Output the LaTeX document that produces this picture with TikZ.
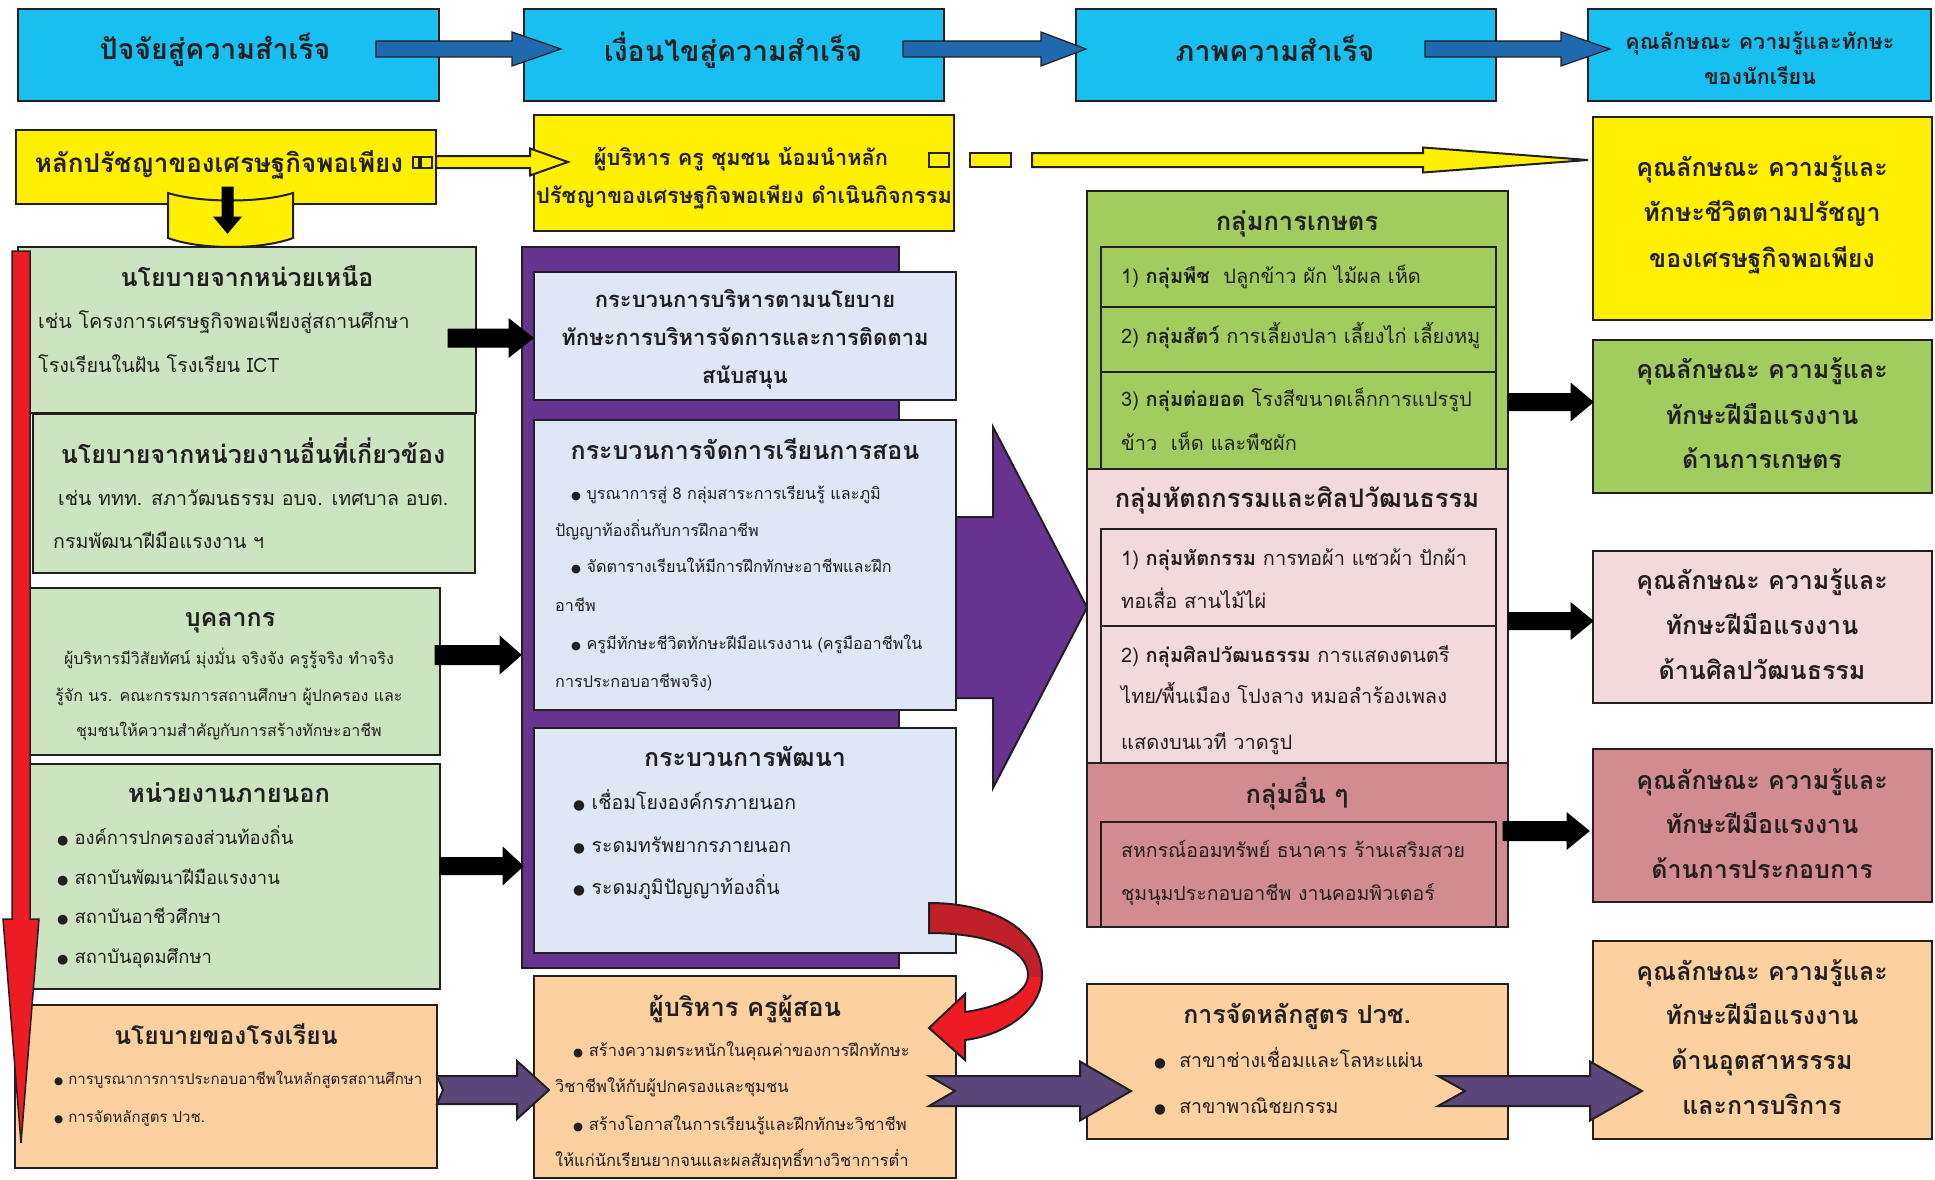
\documentclass[tikz,border=0pt]{standalone}
\usepackage{fontspec}
\usepackage{graphicx}
\setmainfont[Script=Thai]{Loma}
\newfontfamily\dv{DejaVu Sans}
\newcommand\bul{{\dv\scalebox{0.7}{●}}}
\definecolor{bd}{RGB}{35,31,32}
\definecolor{tx}{RGB}{35,31,32}
\definecolor{cy}{RGB}{23,192,240}
\definecolor{abl}{RGB}{31,105,175}
\definecolor{yl}{RGB}{255,240,0}
\definecolor{lg}{RGB}{205,228,192}
\definecolor{gn}{RGB}{162,205,94}
\definecolor{lp}{RGB}{242,218,220}
\definecolor{ro}{RGB}{211,139,146}
\definecolor{pe}{RGB}{253,208,160}
\definecolor{lv}{RGB}{223,230,245}
\definecolor{pu}{RGB}{102,51,145}
\definecolor{pa}{RGB}{90,70,120}
\definecolor{rd}{RGB}{237,28,36}
\definecolor{rdk}{RGB}{192,32,40}
\newcommand\Tc[5]{\node[tc] (#1) at (#2,{#3+0.27*#4}) {\fontsize{#4}{#4}\selectfont #5};}
\newcommand\Tl[5]{\node[tl] (#1) at (#2,{#3+0.27*#4}) {\fontsize{#4}{#4}\selectfont #5};}
\newcommand\Bx[6]{\node[box,fill=#1,minimum width=#5pt,minimum height=#6pt] (#2) at (#3,#4) {};}
% block arrow: [style]{xs}{xt}{y}{shaft half}{head half}{head length}
\newcommand\blkarrow[7][]{\draw[#1] (#2,{#4-#5}) -- ({#3-#7},{#4-#5}) -- ({#3-#7},{#4-#6}) -- (#3,#4) -- ({#3-#7},{#4+#6}) -- ({#3-#7},{#4+#5}) -- (#2,{#4+#5}) -- cycle;}
\newcommand\ntarrow[8][]{\draw[#1] (#2,{#4-#5}) -- ({#3-#7},{#4-#5}) -- ({#3-#7},{#4-#6}) -- (#3,#4) -- ({#3-#7},{#4+#6}) -- ({#3-#7},{#4+#5}) -- (#2,{#4+#5}) -- ({#2+#8},#4) -- cycle;}
\def\redpath{(929,903) .. controls (1000,903) and (1042,935) .. (1042,975) .. controls (1042,1010) and (1005,1035) .. (965,1040) -- (965,1060) -- (929,1028) -- (965,994) -- (965,1012) .. controls (995,1008) and (1028,995) .. (1028,975) .. controls (1028,950) and (990,933) .. (929,933) -- cycle}
\begin{document}
\begin{tikzpicture}[x=1pt,y=-1pt,
  box/.style={draw=bd,line width=2pt,anchor=north west,inner sep=0pt,outer sep=0pt},
  tc/.style={inner sep=0pt,anchor=base,text=tx},
  tl/.style={inner sep=0pt,anchor=base west,text=tx},
  bluearr/.style={fill=abl,draw=bd,line width=1.2pt},
  yarr/.style={fill=yl,draw=bd,line width=2pt},
  karr/.style={fill=black,draw=black,line width=1pt},
  parr/.style={fill=pa,draw=bd,line width=2pt}]
\useasboundingbox (0,0) rectangle (1935,1180);
\fill[white] (0,0) rectangle (1935,1180);
% ---------- top row
\Bx{cy}{hb1}{18}{9}{421}{92}
\Bx{cy}{hb2}{524}{9}{420}{92}
\Bx{cy}{hb3}{1076}{9}{420}{92}
\Bx{cy}{hb4}{1588}{9}{343}{92}
\blkarrow[bluearr]{376}{561}{49}{8}{17}{49}
\blkarrow[bluearr]{903}{1086}{49}{8}{17}{45}
\blkarrow[bluearr]{1425}{1610}{49}{8}{17}{49}
% ---------- yellow row
\Bx{yl}{yb1}{16}{130}{420}{74}
\Bx{yl}{yb2}{534}{115}{420}{116}
\Bx{yl}{yb3}{1593}{117}{339}{203}
\node[box,fill=yl,line width=1.5pt,minimum width=6pt,minimum height=11pt] (sq1) at (413,157) {};
\node[box,fill=yl,line width=1.5pt,minimum width=11pt,minimum height=11pt] (sq2) at (421,157) {};
\node[box,fill=yl,line width=1.8pt,minimum width=20pt,minimum height=14pt] (sq3) at (929,153) {};
\node[box,fill=yl,line width=2pt,minimum width=41pt,minimum height=14pt] (sq4) at (970,153) {};
\blkarrow[yarr]{436}{568}{162}{6}{13.5}{38}
\blkarrow[yarr]{1032}{1588}{160}{7}{12.5}{165}
% ---------- middle purple block
\node[box,fill=pu,minimum width=377pt,minimum height=721pt] (purp) at (522,247) {};
\draw[fill=pu,draw=bd,line width=2pt] (899,517) -- (993,517) -- (993,427) -- (1087,607.5) -- (993,788) -- (993,698) -- (899,698);
\Bx{lv}{lav1}{534}{272}{422}{128}
\Bx{lv}{lav2}{534}{420}{422}{290}
\Bx{lv}{lav3}{534}{728}{422}{225}
\Bx{pe}{pe2}{534}{976}{422}{202}
% ---------- left column
\Bx{lg}{g1}{18}{247}{458}{166}
\Bx{lg}{g2}{33}{414}{442}{159}
\Bx{lg}{g3}{30}{588}{410}{167}
\Bx{lg}{g4}{30}{764}{410}{225}
\Bx{pe}{pe1}{15}{1005}{422}{163}
\draw[fill=yl,draw=bd,line width=2pt] (168,193) .. controls (200,203) and (261,203) .. (293,193) -- (293,238) .. controls (261,250) and (200,250) .. (168,238) -- cycle;
\draw[fill=black,draw=black,line width=1pt] (222,187) -- (233,187) -- (233,217) -- (241,217) -- (227.5,233) -- (214,217) -- (222,217) -- cycle;
\draw[fill=rd,draw=bd,line width=1.5pt] (12,251) -- (30,251) -- (30,919) -- (39,919) -- (21,1143) -- (3,919) -- (12,919) -- cycle;
\blkarrow[karr]{448}{533}{338}{9}{19}{24}
\blkarrow[karr]{435}{521}{655}{9.5}{18.5}{21}
\blkarrow[karr]{440}{523}{866}{8.5}{18.5}{20}
\ntarrow[parr]{437}{549}{1090}{14}{29}{32}{6}
% ---------- middle right column
\Bx{gn}{gout}{1087}{191}{421}{278}
\Bx{gn}{gr1}{1101}{247}{395}{60}
\Bx{gn}{gr2}{1101}{307}{395}{65}
\Bx{gn}{gr3}{1101}{372}{395}{97}
\Bx{lp}{pout}{1087}{469}{421}{294}
\Bx{lp}{pr1}{1101}{529}{395}{97}
\Bx{lp}{pr2}{1101}{626}{395}{137}
\Bx{ro}{rout}{1087}{763}{421}{164}
\Bx{ro}{rin}{1101}{822}{395}{105}
\Bx{pe}{pe3}{1087}{984}{421}{155}
% ---------- right column
\Bx{gn}{rg}{1593}{340}{339}{153}
\Bx{lp}{rp}{1593}{551}{339}{152}
\Bx{ro}{rr}{1593}{749}{339}{153}
\Bx{pe}{rpe}{1593}{941}{339}{198}
\blkarrow[karr]{1508}{1593}{402}{8.5}{18.5}{22}
\blkarrow[karr]{1508}{1593}{621}{8.5}{18}{22}
\blkarrow[karr]{1503}{1589}{831}{9.5}{18}{22}
\ntarrow[parr]{929}{1131}{1091}{15}{29.5}{51}{26}
\ntarrow[parr]{1438}{1642}{1091}{15}{29.5}{52}{27}
% ---------- red curved arrow
\fill[rd] \redpath;
\begin{scope}\clip (900,880) rectangle (1060,976); \fill[rdk] \redpath; \end{scope}
\draw[bd,line width=2pt] \redpath;
% ---------- texts: top row
\Tc{t1}{215}{52}{28.5}{\bfseries ปัจจัยสู่ความสำเร็จ}
\Tc{t2}{733}{54}{28.5}{\bfseries เงื่อนไขสู่ความสำเร็จ}
\Tc{t3}{1275}{54}{28.5}{\bfseries ภาพความสำเร็จ}
\Tc{t4a}{1760}{44}{21.5}{\bfseries คุณลักษณะ ความรู้และทักษะ}
\Tc{t4b}{1760}{79}{21.5}{\bfseries ของนักเรียน}
% yellow row
\Tc{y1}{219}{165}{26}{\bfseries หลักปรัชญาของเศรษฐกิจพอเพียง}
\Tc{y2a}{741}{160}{21.8}{\bfseries ผู้บริหาร ครู ชุมชน น้อมนำหลัก}
\Tc{y2b}{744}{198}{21.8}{\bfseries ปรัชญาของเศรษฐกิจพอเพียง ดำเนินกิจกรรม}
\Tc{y3a}{1762}{170}{25}{\bfseries คุณลักษณะ ความรู้และ}
\Tc{y3b}{1762}{215}{25}{\bfseries ทักษะชีวิตตามปรัชญา}
\Tc{y3c}{1762}{261}{25}{\bfseries ของเศรษฐกิจพอเพียง}
% left column
\Tc{g1t}{247}{280}{25}{\bfseries นโยบายจากหน่วยเหนือ}
\Tl{g1a}{38}{323}{19.8}{เช่น โครงการเศรษฐกิจพอเพียงสู่สถานศึกษา}
\Tl{g1b}{38}{367}{19.8}{โรงเรียนในฝัน โรงเรียน ICT}
\Tc{g2t}{253}{457}{25}{\bfseries นโยบายจากหน่วยงานอื่นที่เกี่ยวข้อง}
\Tl{g2a}{58}{500}{19.6}{เช่น ททท. สภาวัฒนธรรม อบจ. เทศบาล อบต.}
\Tl{g2b}{53}{543}{19.6}{กรมพัฒนาฝีมือแรงงาน ฯ}
\Tc{g3t}{230}{620}{25}{\bfseries บุคลากร}
\Tc{g3a}{229}{660}{16}{ผู้บริหารมีวิสัยทัศน์ มุ่งมั่น จริงจัง ครูรู้จริง ทำจริง}
\Tc{g3b}{229}{697}{16}{รู้จัก นร. คณะกรรมการสถานศึกษา ผู้ปกครอง และ}
\Tc{g3c}{229}{732}{16}{ชุมชนให้ความสำคัญกับการสร้างทักษะอาชีพ}
\Tc{g4t}{229}{796}{25.5}{\bfseries หน่วยงานภายนอก}
\Tl{g4a}{57}{840}{18.4}{\bul\ องค์การปกครองส่วนท้องถิ่น}
\Tl{g4b}{57}{880}{18.4}{\bul\ สถาบันพัฒนาฝีมือแรงงาน}
\Tl{g4c}{57}{919}{18.4}{\bul\ สถาบันอาชีวศึกษา}
\Tl{g4d}{57}{959}{18.4}{\bul\ สถาบันอุดมศึกษา}
\Tc{p1t}{226}{1038}{24.6}{\bfseries นโยบายของโรงเรียน}
\Tl{p1a}{54}{1080}{15}{\bul\ การบูรณาการการประกอบอาชีพในหลักสูตรสถานศึกษา}
\Tl{p1b}{54}{1118}{15}{\bul\ การจัดหลักสูตร ปวช.}
% middle column
\Tc{l1a}{745}{302}{22}{\bfseries กระบวนการบริหารตามนโยบาย}
\Tc{l1b}{745}{340}{22}{\bfseries ทักษะการบริหารจัดการและการติดตาม}
\Tc{l1c}{745}{378}{22}{\bfseries สนับสนุน}
\Tc{l2t}{745}{453}{25}{\bfseries กระบวนการจัดการเรียนการสอน}
\Tl{l2a}{571}{495}{16.2}{\bul\ บูรณาการสู่ 8 กลุ่มสาระการเรียนรู้ และภูมิ}
\Tl{l2b}{555}{532}{16.2}{ปัญญาท้องถิ่นกับการฝึกอาชีพ}
\Tl{l2c}{571}{568}{16.2}{\bul\ จัดตารางเรียนให้มีการฝึกทักษะอาชีพและฝึก}
\Tl{l2d}{555}{607}{16.2}{อาชีพ}
\Tl{l2e}{571}{645}{16.2}{\bul\ ครูมีทักษะชีวิตทักษะฝีมือแรงงาน (ครูมืออาชีพใน}
\Tl{l2f}{555}{683}{16.2}{การประกอบอาชีพจริง)}
\Tc{l3t}{745}{760}{25}{\bfseries กระบวนการพัฒนา}
\Tl{l3a}{573}{804}{19.5}{\bul\ เชื่อมโยงองค์กรภายนอก}
\Tl{l3b}{573}{847}{19.5}{\bul\ ระดมทรัพยากรภายนอก}
\Tl{l3c}{573}{889}{19.5}{\bul\ ระดมภูมิปัญญาท้องถิ่น}
\Tc{p2t}{745}{1010}{25.5}{\bfseries ผู้บริหาร ครูผู้สอน}
\Tl{p2a}{573}{1052}{16.5}{\bul\ สร้างความตระหนักในคุณค่าของการฝึกทักษะ}
\Tl{p2b}{555}{1088}{16.5}{วิชาชีพให้กับผู้ปกครองและชุมชน}
\Tl{p2c}{573}{1126}{16.5}{\bul\ สร้างโอกาสในการเรียนรู้และฝึกทักษะวิชาชีพ}
\Tl{p2d}{555}{1162}{16.5}{ให้แก่นักเรียนยากจนและผลสัมฤทธิ์ทางวิชาการต่ำ}
% middle right column
\Tc{gt}{1297}{224}{25.5}{\bfseries กลุ่มการเกษตร}
\Tl{ga}{1121}{278}{20}{1) {\bfseries กลุ่มพืช}\ \ ปลูกข้าว ผัก ไม้ผล เห็ด}
\Tl{gb}{1121}{338}{20}{2) {\bfseries กลุ่มสัตว์} การเลี้ยงปลา เลี้ยงไก่ เลี้ยงหมู}
\Tl{gc}{1121}{401}{20}{3) {\bfseries กลุ่มต่อยอด} โรงสีขนาดเล็กการแปรรูป}
\Tl{gd}{1121}{445}{20}{ข้าว\ \ เห็ด และพืชผัก}
\Tc{pt}{1297}{501}{25.5}{\bfseries กลุ่มหัตถกรรมและศิลปวัฒนธรรม}
\Tl{pa}{1121}{560}{20}{1) {\bfseries กลุ่มหัตกรรม} การทอผ้า แซวผ้า ปักผ้า}
\Tl{pb}{1121}{603}{20}{ทอเสื่อ สานไม้ไผ่}
\Tl{pc}{1121}{657}{20}{2) {\bfseries กลุ่มศิลปวัฒนธรรม} การแสดงดนตรี}
\Tl{pd}{1121}{698}{20}{ไทย/พื้นเมือง โปงลาง หมอลำร้องเพลง}
\Tl{pf}{1121}{744}{20}{แสดงบนเวที วาดรูป}
\Tc{rt}{1297}{797}{25.5}{\bfseries กลุ่มอื่น ๆ}
\Tl{ra}{1121}{852}{19.5}{สหกรณ์ออมทรัพย์ ธนาคาร ร้านเสริมสวย}
\Tl{rb}{1121}{895}{19.5}{ชุมนุมประกอบอาชีพ งานคอมพิวเตอร์}
\Tc{p3t}{1297}{1017}{25}{\bfseries การจัดหลักสูตร ปวช.}
\Tl{p3a}{1154}{1062}{19.5}{\bul\ \ สาขาช่างเชื่อมและโลหะแผ่น}
\Tl{p3b}{1154}{1108}{19.5}{\bul\ \ สาขาพาณิชยกรรม}
% right column
\Tc{rga}{1762}{372}{25}{\bfseries คุณลักษณะ ความรู้และ}
\Tc{rgb}{1762}{418}{25}{\bfseries ทักษะฝีมือแรงงาน}
\Tc{rgc}{1762}{462}{25}{\bfseries ด้านการเกษตร}
\Tc{rpa}{1762}{583}{25}{\bfseries คุณลักษณะ ความรู้และ}
\Tc{rpb}{1762}{628}{25}{\bfseries ทักษะฝีมือแรงงาน}
\Tc{rpc}{1762}{673}{25}{\bfseries ด้านศิลปวัฒนธรรม}
\Tc{rra}{1762}{783}{25}{\bfseries คุณลักษณะ ความรู้และ}
\Tc{rrb}{1762}{827}{25}{\bfseries ทักษะฝีมือแรงงาน}
\Tc{rrc}{1762}{872}{25}{\bfseries ด้านการประกอบการ}
\Tc{rea}{1762}{974}{25}{\bfseries คุณลักษณะ ความรู้และ}
\Tc{reb}{1762}{1018}{25}{\bfseries ทักษะฝีมือแรงงาน}
\Tc{rec}{1762}{1063}{25}{\bfseries ด้านอุตสาหรรรม}
\Tc{red}{1762}{1108}{25}{\bfseries และการบริการ}
\end{tikzpicture}
\end{document}
